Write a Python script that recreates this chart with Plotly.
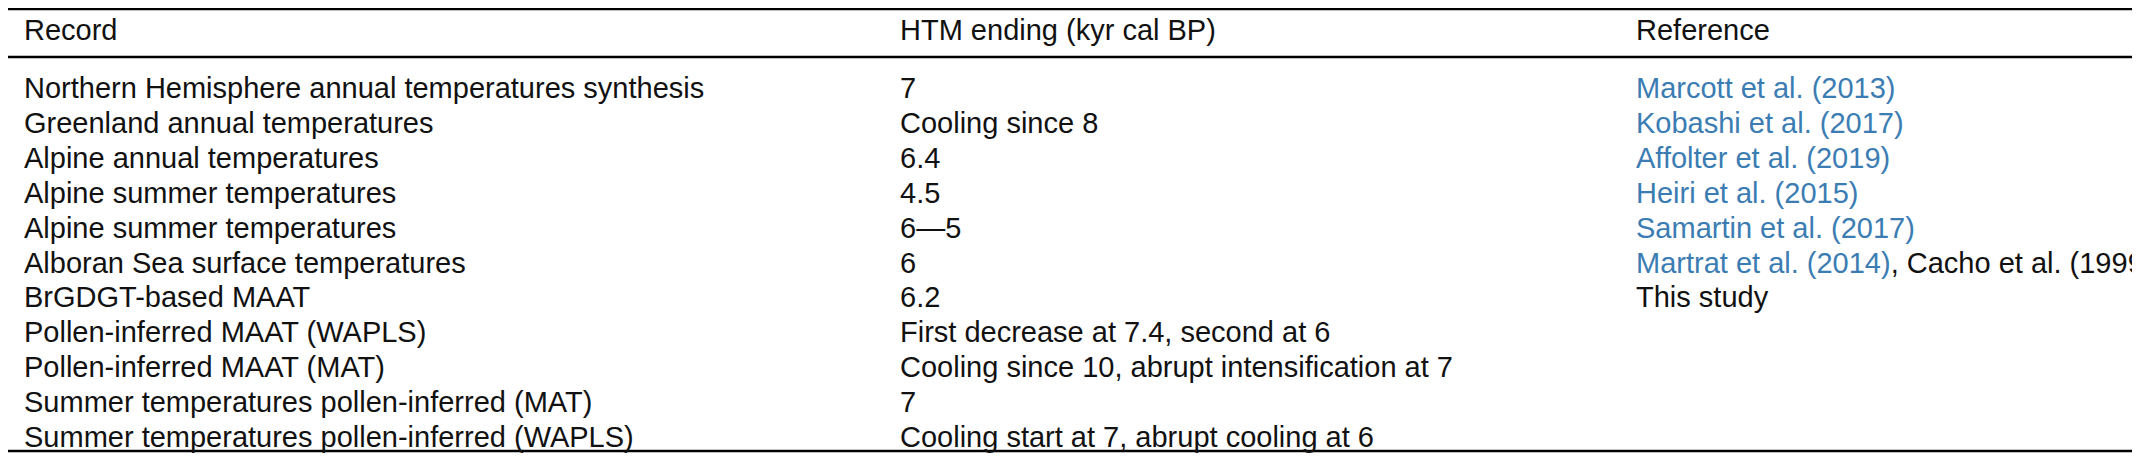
import plotly.graph_objects as go

headers = ["Record", "HTM ending (kyr cal BP)", "Reference"]
records = [
    "Northern Hemisphere annual temperatures synthesis",
    "Greenland annual temperatures",
    "Alpine annual temperatures",
    "Alpine summer temperatures",
    "Alpine summer temperatures",
    "Alboran Sea surface temperatures",
    "BrGDGT-based MAAT",
    "Pollen-inferred MAAT (WAPLS)",
    "Pollen-inferred MAAT (MAT)",
    "Summer temperatures pollen-inferred (MAT)",
    "Summer temperatures pollen-inferred (WAPLS)",
]
htm_ending = [
    "7", "Cooling since 8", "6.4", "4.5", "6\u20145", "6", "6.2",
    "First decrease at 7.4, second at 6",
    "Cooling since 10, abrupt intensification at 7",
    "7", "Cooling start at 7, abrupt cooling at 6",
]
BLUE = "#3b7db3"
references = [
    f"<span style='color:{BLUE}'>Marcott et al. (2013)</span>",
    f"<span style='color:{BLUE}'>Kobashi et al. (2017)</span>",
    f"<span style='color:{BLUE}'>Affolter et al. (2019)</span>",
    f"<span style='color:{BLUE}'>Heiri et al. (2015)</span>",
    f"<span style='color:{BLUE}'>Samartin et al. (2017)</span>",
    f"<span style='color:{BLUE}'>Martrat et al. (2014)</span>, Cacho et al. (1999",
    "This study", "", "", "", "",
]

W, H = 2140, 474
col_x = [14, 890, 1626]
header_y = 22
row0_y = 80
row_h = 34.9
lines_y = [1, 49, 443]
FONT = "Liberation Sans Narrow, Liberation Sans, sans-serif"
FS = 29

fig = go.Figure()
ann = []
for x, h in zip(col_x, headers):
    ann.append(dict(x=x, y=header_y, text=h))
for i, row in enumerate(zip(records, htm_ending, references)):
    for x, t in zip(col_x, row):
        if t:
            ann.append(dict(x=x, y=row0_y + i * row_h, text=t))
for a in ann:
    a.update(xref="x", yref="y", xanchor="left", yanchor="middle", showarrow=False,
             font=dict(family=FONT, size=FS, color="#111", weight="normal"))
shapes = [dict(type="line", xref="x", yref="y", x0=0, x1=W, y0=y, y1=y,
               line=dict(color="black", width=2.5)) for y in lines_y]
fig.update_layout(
    width=W, height=H, margin=dict(l=0, r=0, t=0, b=0),
    paper_bgcolor="white", plot_bgcolor="white",
    xaxis=dict(range=[0, W], visible=False, fixedrange=True),
    yaxis=dict(range=[H, 0], visible=False, fixedrange=True),
    annotations=ann, shapes=shapes, showlegend=False,
)
fig.write_html("out.html", config={"displayModeBar": False})
